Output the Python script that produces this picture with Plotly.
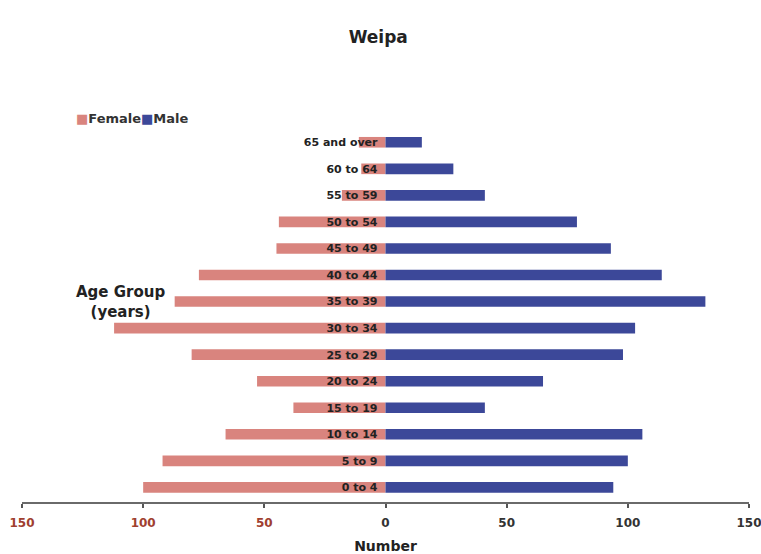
import plotly.graph_objects as go

# Age groups, youngest at the bottom
age_groups = ["0 to 4", "5 to 9", "10 to 14", "15 to 19", "20 to 24", "25 to 29",
              "30 to 34", "35 to 39", "40 to 44", "45 to 49", "50 to 54",
              "55 to 59", "60 to 64", "65 and over"]
female = [100, 92, 66, 38, 53, 80, 112, 87, 77, 45, 44, 18, 10, 11]
male = [94, 100, 106, 41, 65, 98, 103, 132, 114, 93, 79, 41, 28, 15]

tick_vals = [-150, -100, -50, 0, 50, 100, 150]
tick_text = ["150", "100", "50", "0", "50", "100", "150"]

FEMALE_COLOR = "#d9847e"
MALE_COLOR = "#3c4899"
FONT = "DejaVu Sans, Verdana, sans-serif"
TEXT = "#222222"

# Negative-side labels shown in dark red, positive side in dark grey
def colored(v, t):
    col = "#a0402f" if v < 0 else "#333333"
    return f'<span style="color:{col}"><b>{t}</b></span>'

fig = go.Figure()
fig.add_trace(go.Bar(
    y=age_groups, x=[-v for v in female], orientation="h", name="Female",
    marker=dict(color=FEMALE_COLOR, line=dict(width=0)),
    customdata=female, hovertemplate="%{y}: %{customdata}<extra>Female</extra>",
))
fig.add_trace(go.Bar(
    y=age_groups, x=male, orientation="h", name="Male",
    marker=dict(color=MALE_COLOR, line=dict(width=0)),
    hovertemplate="%{y}: %{x}<extra>Male</extra>",
))

# Compact legend line: coloured squares followed by the series names
legend_text = (f'<span style="color:{FEMALE_COLOR}">■</span><b>Female</b>'
               f'<span style="color:{MALE_COLOR}">■</span><b>Male</b>')

fig.update_layout(
    width=761, height=554,
    margin=dict(l=22, r=12, t=129, b=52),
    paper_bgcolor="white", plot_bgcolor="white",
    barmode="relative", bargap=0.6, showlegend=False,
    title=dict(text="<b>Weipa</b>", x=0.497, xanchor="center", y=0.933, yanchor="middle",
               font=dict(family=FONT, size=17, color=TEXT)),
    xaxis=dict(
        range=[-150, 150], tickvals=tick_vals, automargin=False,
        ticktext=[colored(v, t) for v, t in zip(tick_vals, tick_text)],
        ticklabeloverflow="allow",
        showgrid=False, zeroline=False,
        showline=True, linecolor="#6a6a6a", linewidth=2,
        ticks="outside", ticklen=4, tickwidth=1.5, tickcolor="#555",
        tickfont=dict(family=FONT, size=12),
        ticklabelstandoff=5,
        title=dict(text="<b>Number</b>", standoff=12,
                   font=dict(family=FONT, size=14, color=TEXT)),
    ),
    yaxis=dict(
        range=[-0.55, 13.5], anchor="free", position=0.5, automargin=False,
        showgrid=False, zeroline=False, showline=False, ticks="",
        ticklabelstandoff=8,
        tickfont=dict(family=FONT, size=11, color=TEXT, weight="bold"),
    ),
    annotations=[
        dict(text="<b>Age Group<br>(years)</b>", xref="paper", yref="paper",
             x=0.135, y=0.536, xanchor="center", yanchor="middle", showarrow=False,
             font=dict(family=FONT, size=15, color=TEXT)),
        dict(text=legend_text, xref="paper", yref="paper",
             x=0.072, y=1.027, xanchor="left", yanchor="middle", showarrow=False,
             font=dict(family=FONT, size=13, color="#333")),
    ],
)

fig.write_html("out.html")
